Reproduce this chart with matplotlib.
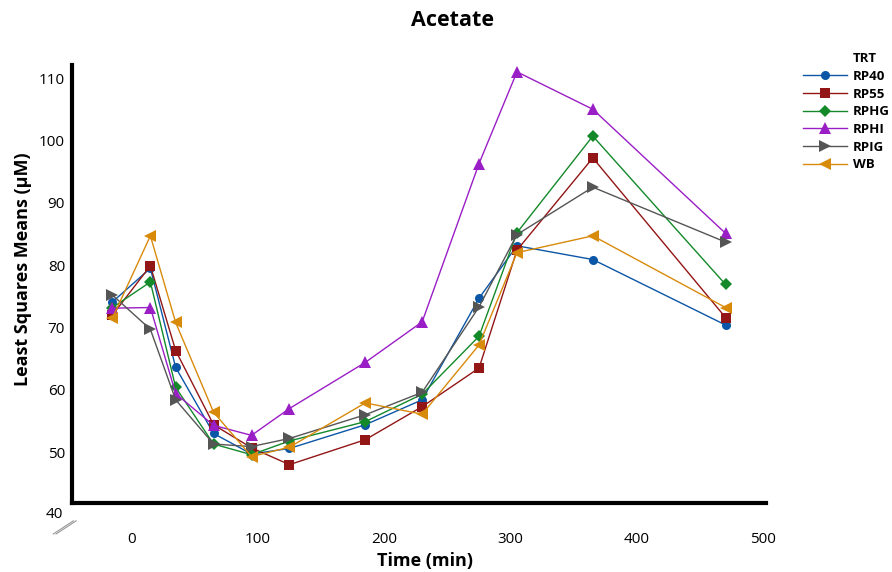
import numpy as np
import matplotlib
matplotlib.use("Agg")
import matplotlib.pyplot as plt
from matplotlib.lines import Line2D

plt.rcParams['font.family'] = ['Open Sans', 'DejaVu Sans']

# sampling times (min)
time_min = [-15, 15, 35, 65, 95, 125, 185, 230, 275, 305, 365, 470]

# least squares means (uM) per treatment
rp40 = [74.1, 79.5, 63.6, 53.0, 49.7, 50.6, 54.4, 58.4, 74.7, 83.1, 80.9, 70.4]
rp55 = [72.0, 79.9, 66.3, 54.4, 50.7, 48.0, 52.0, 57.3, 63.5, 82.4, 97.2, 71.6]
rphg = [73.2, 77.3, 60.4, 51.3, 49.6, 51.8, 54.9, 59.3, 68.6, 85.2, 100.7, 76.9]
rphi = [73.1, 73.2, 59.4, 54.3, 52.7, 57.0, 64.4, 70.9, 96.3, 111.0, 105.0, 85.1]
rpig = [75.2, 69.7, 58.4, 51.3, 50.9, 52.2, 56.0, 59.6, 73.3, 84.9, 92.5, 83.7]
wb = [71.5, 84.7, 70.8, 56.4, 49.3, 50.8, 57.9, 56.1, 67.2, 82.0, 84.7, 73.2]

series = [
    ("RP40", rp40, "#0b56a6", "o", 6.5),
    ("RP55", rp55, "#921616", "s", 7),
    ("RPHG", rphg, "#13892a", "D", 6),
    ("RPHI", rphi, "#9a1ec6", "^", 8.5),
    ("RPIG", rpig, "#555555", ">", 8.5),
    ("WB", wb, "#d88a0b", "<", 8.5),
]

x_ticks = [0, 100, 200, 300, 400, 500]
y_ticks = [50, 60, 70, 80, 90, 100, 110]

fig = plt.figure(figsize=(8.92, 5.72), dpi=100)
ax = fig.add_axes([72 / 892, 1 - 503.3 / 572, 694 / 892, 438.3 / 572])

handles = [Line2D([], [], linestyle='none', label='TRT')]
for name, vals, col, mk, ms in series:
    h, = ax.plot(time_min, vals, color=col, marker=mk, markersize=ms,
                 linewidth=1, markeredgewidth=0, label=name, clip_on=False)
    handles.append(h)

ax.set_xlim(-47, 502)
ax.set_ylim(41.8, 112.1)
ax.set_xticks(x_ticks)
ax.set_yticks(y_ticks)
ax.tick_params(length=0, labelsize=11)
ax.tick_params(axis='x', pad=21)
ax.tick_params(axis='y', pad=5)

for s in ['top', 'right']:
    ax.spines[s].set_visible(False)
for s in ['left', 'bottom']:
    ax.spines[s].set_linewidth(3)
    ax.spines[s].set_capstyle('projecting')

# "40" label below the broken axis, plus the break marks
ax.text(-0.013, 40, "40", transform=ax.get_yaxis_transform(), ha='right',
        va='center', fontsize=11, clip_on=False)
for dx in (0, 0.004):
    ax.plot([-0.027 + dx, 0.002 + dx], [-0.070, -0.040], color='#999999',
            linewidth=0.8, transform=ax.transAxes, clip_on=False)

ax.set_xlabel("Time (min)", fontsize=13, fontweight='bold')
ax.xaxis.set_label_coords(0.509, -0.112)
ax.set_ylabel("Least Squares Means (\u00b5M)", fontsize=13, fontweight='bold')
ax.yaxis.set_label_coords(-0.058, 0.535)

fig.text(453 / 892, 1 - 20 / 572, "Acetate", ha='center', va='center',
         fontsize=15.5, fontweight='bold')

fig.legend(handles=handles, loc='upper left', bbox_to_anchor=(803 / 892, 1 - 52 / 572),
           frameon=False, borderpad=0, borderaxespad=0, handlelength=3.3,
           handletextpad=0.5, labelspacing=0.36, prop={'size': 9.5, 'weight': 'bold'})

fig.savefig("out.png", dpi=100)
